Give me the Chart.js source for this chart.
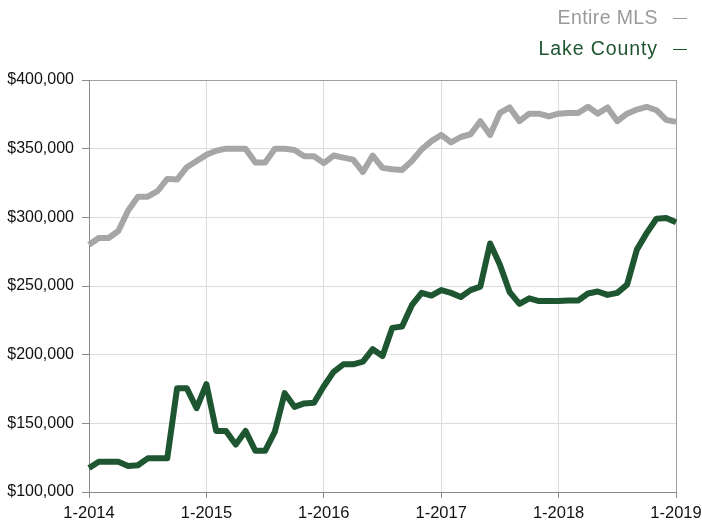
<!DOCTYPE html>
<html>
<head>
<meta charset="utf-8">
<script src="https://cdn.jsdelivr.net/npm/chart.js@4.4.1/dist/chart.umd.min.js"></script>
<style>
  html, body { margin: 0; padding: 0; background: #fff; }
  #wrap { position: relative; width: 702px; height: 521px; overflow: hidden; }
  .legend { position: absolute; right: 15px; font: 19.5px "Liberation Sans", Arial, sans-serif; letter-spacing: 0.4px; white-space: nowrap; }
  #lg-mls { top: 6px; color: #9a9a9a; }
  #lg-lake { top: 37px; color: #1e5631; letter-spacing: 0.9px; }
  .legend .dash { display: inline-block; width: 14px; height: 0; border-top: 1.6px solid currentColor; vertical-align: middle; margin-left: 15px; }
</style>
</head>
<body>
<div id="wrap">
  <canvas id="chart" width="702" height="521"></canvas>
  <div class="legend" id="lg-mls">Entire MLS<span class="dash"></span></div>
  <div class="legend" id="lg-lake">Lake County<span class="dash"></span></div>
</div>
<script>
// monthly, 1-2014 .. 1-2019
const months = [];
for (let y = 2014; y <= 2019; y++) {
  for (let m = 1; m <= 12; m++) {
    if (y === 2019 && m > 1) break;
    months.push(m + '-' + y);
  }
}

const entireMls = [
  280000, 285000, 285000, 290000, 305000, 315000, 315000, 319000, 328000, 327500, 336500, 341000,
  345500, 348500, 350000, 350000, 350000, 340000, 340000, 350000, 350000, 349000, 344500, 344500,
  339500, 345000, 343500, 342000, 333000, 345000, 336000, 335000, 334500, 341000, 349500, 355500,
  360000, 354500, 358500, 360500, 370000, 360000, 376000, 380000, 370000, 375500, 375500, 373500,
  375500, 376000, 376000, 380500, 375500, 380000, 370000, 375500, 378500, 380500, 378000, 371000,
  369500
];

const lakeCounty = [
  117500, 122000, 122000, 122000, 119000, 119500, 124500, 124500, 124500, 175500, 175500, 161000,
  178500, 144500, 144500, 134500, 144500, 130000, 130000, 144000, 172000, 162000, 164500, 165000,
  177000, 187500, 193000, 193000, 195000, 204000, 199000, 219500, 220500, 236000, 245000, 243000,
  247000, 245000, 242000, 247000, 249500, 281000, 265500, 245500, 237000, 241000, 239000, 239000,
  239000, 239500, 239500, 244500, 246000, 243500, 245000, 251000, 276500, 288500, 299000, 299500,
  296500
];

const yTicks = [100000, 150000, 200000, 250000, 300000, 350000, 400000];

const fam = '"Liberation Sans", Arial, sans-serif';

new Chart(document.getElementById('chart'), {
  type: 'line',
  data: {
    labels: months,
    datasets: [
      {
        label: 'Entire MLS',
        data: entireMls,
        borderColor: '#a6a6a6',
        borderWidth: 6,
        pointRadius: 0,
        tension: 0,
        borderJoinStyle: 'round'
      },
      {
        label: 'Lake County',
        data: lakeCounty,
        borderColor: '#1e5631',
        borderWidth: 6,
        pointRadius: 0,
        tension: 0,
        borderJoinStyle: 'round'
      }
    ]
  },
  options: {
    responsive: false,
    animation: false,
    layout: { padding: { top: 80, right: 26, left: 0, bottom: 0 } },
    plugins: { legend: { display: false }, tooltip: { enabled: false } },
    scales: {
      x: {
        offset: false,
        afterFit: (s) => { s.height = 29; s.paddingLeft = 0; s.paddingRight = 0; },
        border: { color: '#8a8a8a', width: 1 },
        grid: {
          color: (ctx) => ctx.index === months.length - 1 ? '#a0a0a0' : (ctx.index % 12 === 0 ? '#dcdcdc' : 'rgba(0,0,0,0)'),
          tickColor: (ctx) => ctx.index % 12 === 0 ? '#8a8a8a' : 'rgba(0,0,0,0)',
          tickLength: 6
        },
        ticks: {
          autoSkip: false,
          maxRotation: 0,
          padding: 6,
          color: '#111',
          font: { family: fam, size: 16.5 },
          callback: (v, i) => i % 12 === 0 ? months[i] : ''
        }
      },
      y: {
        min: yTicks[0],
        max: yTicks[yTicks.length - 1],
        afterFit: (s) => { s.width = 89; s.paddingTop = 0; s.paddingBottom = 0; },
        afterBuildTicks: (s) => { s.ticks = yTicks.map(v => ({ value: v })); },
        border: { color: '#8a8a8a', width: 1 },
        grid: {
          color: (ctx) => ctx.tick && ctx.tick.value === 400000 ? '#a0a0a0' : '#dcdcdc',
          tickColor: '#8a8a8a',
          tickLength: 7
        },
        ticks: {
          padding: 8,
          color: '#111',
          font: { family: fam, size: 16 },
          callback: (v) => '$' + v.toLocaleString('en-US')
        }
      }
    }
  }
});
</script>
</body>
</html>
